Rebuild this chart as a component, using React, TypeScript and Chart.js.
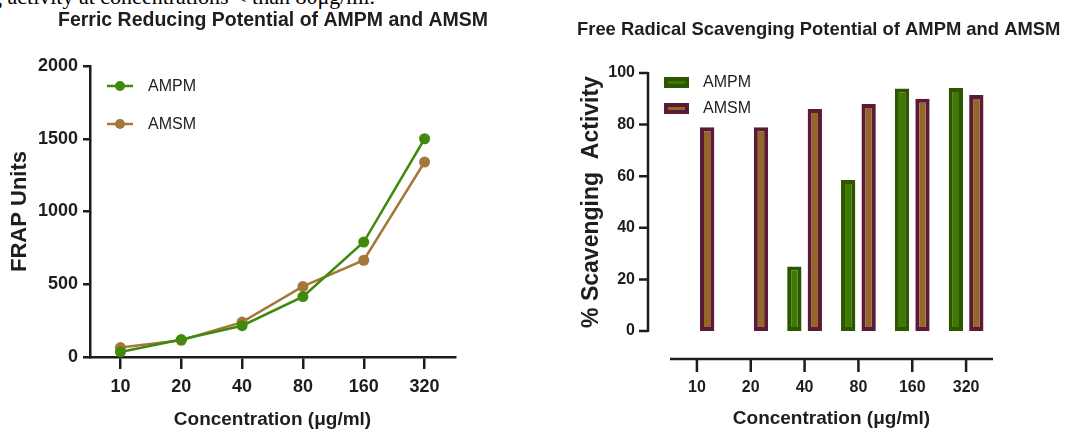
import React, { useEffect, useRef } from "react";
import { Chart, registerables } from "chart.js";

Chart.register(...registerables);

// ---------- data ----------
const concentrations = ["10", "20", "40", "80", "160", "320"];
const seriesNames = ["AMPM", "AMSM"];
const frapAMPM = [35, 120, 215, 415, 790, 1500];
const frapAMSM = [65, 115, 240, 485, 665, 1340];
const scavAMPM: (number | null)[] = [null, null, 25, 58.5, 94, 94.2];
const scavAMSM = [79, 79, 86, 88, 90, 91.5];
const frapMax = 2000;
const frapStep = 500;
const scavMax = 100;
const scavStep = 20;

const leftTitle = "Ferric Reducing Potential of AMPM and AMSM";
const rightTitle = "Free Radical Scavenging Potential of AMPM and AMSM";
const xTitle = "Concentration (\u03bcg/ml)";
const leftYTitle = "FRAP Units";
const rightYTitle = "% Scavenging  Activity";
const pageText = "ng activity at concentrations < than 80\u03bcg/ml.";

// ---------- styles ----------
const FONT = 'Arial, "Liberation Sans", Helvetica, sans-serif';
const AX = "#1c1c1c";
const TXT = "#1e1e1e";
const GREEN_L = "#3f8a0c";
const BROWN_L = "#a5773d";
const GREEN_F = "#3e7a02";
const GREEN_B = "#2c5600";
const BROWN_F = "#966628";
const BROWN_B = "#5a1a38";

Chart.defaults.font.family = FONT;

const plainNumber = (v: any) => String(v);

const leftPlugin = {
  id: "leftDeco",
  afterDraw(chart: any) {
    const { ctx } = chart;
    ctx.save();
    ctx.fillStyle = TXT;
    ctx.font = `bold 19.5px ${FONT}`;
    ctx.textAlign = "left";
    ctx.textBaseline = "middle";
    ctx.fillText(leftTitle, 58, 21);
    // legend
    chart.data.datasets.forEach((ds: any, i: number) => {
      const y = 86 + i * 38;
      ctx.strokeStyle = ds.borderColor;
      ctx.lineWidth = 2.5;
      ctx.beginPath();
      ctx.moveTo(107, y);
      ctx.lineTo(133, y);
      ctx.stroke();
      ctx.fillStyle = ds.borderColor;
      ctx.beginPath();
      ctx.arc(120, y, 5, 0, Math.PI * 2);
      ctx.fill();
      ctx.fillStyle = TXT;
      ctx.font = `16px ${FONT}`;
      ctx.fillText(ds.label, 148, y + 1);
    });
    ctx.restore();
  },
};

const rightPlugin = {
  id: "rightDeco",
  afterDraw(chart: any) {
    const { ctx, chartArea } = chart;
    const x = chart.scales.x;
    const y = chart.scales.y;
    ctx.save();
    // axes
    ctx.strokeStyle = AX;
    ctx.lineWidth = 2.5;
    ctx.beginPath();
    const ax = chartArea.left - 22;
    ctx.moveTo(ax, y.getPixelForValue(scavMax) - 1);
    ctx.lineTo(ax, y.getPixelForValue(0) + 1);
    y.ticks.forEach((t: any) => {
      const py = y.getPixelForValue(t.value);
      ctx.moveTo(ax - 9, py);
      ctx.lineTo(ax, py);
    });
    const ay = chartArea.bottom + 28;
    ctx.moveTo(chartArea.left, ay);
    ctx.lineTo(chartArea.right, ay);
    x.ticks.forEach((_t: any, i: number) => {
      const px = x.getPixelForTick(i);
      ctx.moveTo(px, ay);
      ctx.lineTo(px, ay + 13);
    });
    ctx.stroke();
    // title
    ctx.fillStyle = TXT;
    ctx.font = `bold 18.4px ${FONT}`;
    ctx.textAlign = "left";
    ctx.textBaseline = "middle";
    ctx.fillText(rightTitle, 37, 30);
    // legend
    chart.data.datasets.forEach((ds: any, i: number) => {
      const top = 77 + i * 26;
      ctx.fillStyle = ds.borderColor;
      ctx.fillRect(124, top, 25, 11);
      ctx.fillStyle = ds.backgroundColor;
      ctx.fillRect(128, top + 4, 17, 3);
      ctx.fillStyle = TXT;
      ctx.font = `16px ${FONT}`;
      ctx.fillText(ds.label, 163, top + 6);
    });
    ctx.restore();
  },
};

function LeftChart() {
  const ref = useRef<HTMLCanvasElement>(null);
  useEffect(() => {
    const chart = new Chart(ref.current as HTMLCanvasElement, {
      type: "line",
      data: {
        labels: concentrations,
        datasets: [
          {
            label: seriesNames[0],
            data: frapAMPM,
            borderColor: GREEN_L,
            backgroundColor: GREEN_L,
            borderWidth: 2.5,
            pointRadius: 5.5,
            pointHoverRadius: 5.5,
            pointBorderWidth: 0,
            tension: 0,
          },
          {
            label: seriesNames[1],
            data: frapAMSM,
            borderColor: BROWN_L,
            backgroundColor: BROWN_L,
            borderWidth: 2.5,
            pointRadius: 5.5,
            pointHoverRadius: 5.5,
            pointBorderWidth: 0,
            tension: 0,
          },
        ],
      },
      options: {
        animation: false,
        responsive: false,
        events: [],
        layout: { padding: { left: 0, top: 66, right: 85, bottom: 0 } },
        plugins: { legend: { display: false }, tooltip: { enabled: false }, title: { display: false } },
        scales: {
          x: {
            type: "category",
            offset: true,
            border: { display: true, color: AX, width: 2.5 },
            grid: { drawOnChartArea: false, drawTicks: true, tickLength: 12, color: AX, lineWidth: 2.5 },
            ticks: { padding: 7, color: TXT, font: { size: 18, weight: "bold" }, maxRotation: 0 },
            title: { display: true, text: xTitle, color: TXT, font: { size: 19, weight: "bold" }, padding: { top: 0, bottom: 0 } },
            afterFit: (s: any) => {
              s.height = 74;
              s.paddingLeft = 0;
              s.paddingRight = 0;
            },
          },
          y: {
            min: 0,
            max: frapMax,
            border: { display: true, color: AX, width: 2.5 },
            grid: { drawOnChartArea: false, drawTicks: true, tickLength: 7, color: AX, lineWidth: 2.5 },
            ticks: { stepSize: frapStep, padding: 5, color: TXT, font: { size: 18, weight: "bold" }, callback: plainNumber },
            title: { display: true, text: leftYTitle, color: TXT, font: { size: 22, weight: "bold" }, padding: { top: 7, bottom: 0 } },
            afterFit: (s: any) => {
              s.width = 90;
              s.paddingTop = 0;
              s.paddingBottom = 0;
            },
          },
        },
      } as any,
      plugins: [leftPlugin],
    });
    return () => chart.destroy();
  }, []);
  return (
    <canvas
      ref={ref}
      width={540}
      height={431}
      style={{ position: "absolute", left: 0, top: 0, width: 540, height: 431 }}
    />
  );
}

function RightChart() {
  const ref = useRef<HTMLCanvasElement>(null);
  useEffect(() => {
    const chart = new Chart(ref.current as HTMLCanvasElement, {
      type: "bar",
      data: {
        labels: concentrations,
        datasets: [
          {
            label: seriesNames[0],
            data: scavAMPM,
            backgroundColor: GREEN_F,
            borderColor: GREEN_B,
            borderWidth: 4,
            borderSkipped: false,
            categoryPercentage: 0.76,
            barPercentage: 0.7,
          },
          {
            label: seriesNames[1],
            data: scavAMSM,
            backgroundColor: BROWN_F,
            borderColor: BROWN_B,
            borderWidth: 4,
            borderSkipped: false,
            categoryPercentage: 0.76,
            barPercentage: 0.7,
          },
        ],
      },
      options: {
        animation: false,
        responsive: false,
        events: [],
        layout: { padding: { left: 0, top: 73, right: 74, bottom: 0 } },
        plugins: { legend: { display: false }, tooltip: { enabled: false }, title: { display: false } },
        scales: {
          x: {
            offset: true,
            border: { display: false },
            grid: { display: false, drawTicks: false },
            ticks: { padding: 47, color: TXT, font: { size: 16, weight: "bold" }, maxRotation: 0 },
            title: { display: true, text: xTitle, color: TXT, font: { size: 19, weight: "bold" }, padding: { top: 0, bottom: 1 } },
            afterFit: (s: any) => {
              s.height = 100;
              s.paddingLeft = 0;
              s.paddingRight = 0;
            },
          },
          y: {
            min: 0,
            max: scavMax,
            border: { display: false },
            grid: { display: false, drawTicks: false },
            ticks: { stepSize: scavStep, padding: 35, color: TXT, font: { size: 16, weight: "bold" }, callback: plainNumber },
            title: { display: true, text: rightYTitle, color: TXT, font: { size: 23, weight: "bold" }, padding: { top: 38, bottom: 0 } },
            afterFit: (s: any) => {
              s.width = 130;
              s.paddingTop = 0;
              s.paddingBottom = 0;
            },
          },
        },
      } as any,
      plugins: [rightPlugin],
    });
    return () => chart.destroy();
  }, []);
  return (
    <canvas
      ref={ref}
      width={527}
      height={431}
      style={{ position: "absolute", left: 540, top: 0, width: 527, height: 431 }}
    />
  );
}

export default function App() {
  return (
    <div
      style={{
        position: "fixed",
        left: 0,
        top: 0,
        width: 1067,
        height: 431,
        background: "#fff",
        overflow: "hidden",
      }}
    >
      <div
        style={{
          position: "absolute",
          left: -20,
          top: -14,
          fontFamily: '"Liberation Serif", "Times New Roman", serif',
          fontSize: 22,
          lineHeight: "22px",
          color: "#000",
          whiteSpace: "nowrap",
        }}
      >
        {pageText}
      </div>
      <LeftChart />
      <RightChart />
    </div>
  );
}
